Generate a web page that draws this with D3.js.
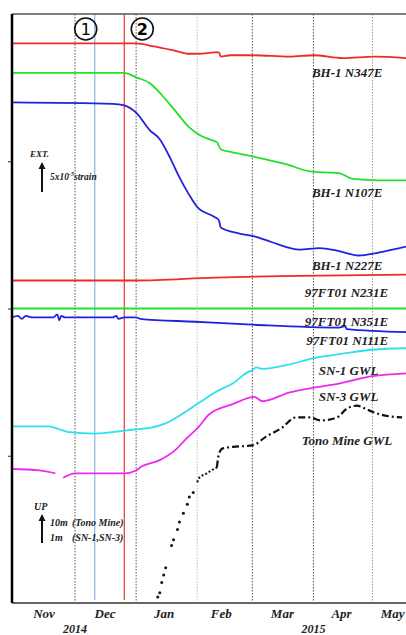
<!DOCTYPE html>
<html>
<head>
<meta charset="utf-8">
<script src="https://cdn.jsdelivr.net/npm/d3@7"></script>
<style>
body { margin: 0; background: #fff; }
svg { display: block; }
</style>
</head>
<body>
<svg id="chart"></svg>
<script>
// relative levels, 100 units per axis division
var bh1N347E = [["2014-10-30",380],["2014-11-20",380],["2014-12-10",380],["2014-12-26",380],["2015-01-01",380],["2015-01-10",378],["2015-01-21",375],["2015-01-28",373],["2015-02-02",373],["2015-02-10",374],["2015-02-12",374],["2015-02-13",371],["2015-02-18",372],["2015-03-01",372],["2015-03-20",371],["2015-04-01",372],["2015-04-16",370],["2015-05-02",371],["2015-05-18",370]];
var bh1N107E = [["2014-10-30",360],["2014-12-26",360],["2015-01-01",357],["2015-01-08",353],["2015-01-14",345],["2015-01-21",334],["2015-01-28",323],["2015-02-02",318],["2015-02-07",315],["2015-02-11",313],["2015-02-13",308],["2015-02-19",306],["2015-03-02",303],["2015-03-18",298],["2015-03-31",293],["2015-04-14",292],["2015-04-21",288],["2015-05-04",287],["2015-05-18",287]];
var bh1N227E = [["2014-10-30",340],["2014-12-20",339],["2014-12-26",338],["2015-01-01",333],["2015-01-08",321],["2015-01-13",315],["2015-01-18",303],["2015-01-23",289],["2015-01-28",277],["2015-02-01",269],["2015-02-10",262],["2015-02-12",260],["2015-02-13",255],["2015-02-22",251],["2015-03-02",249],["2015-03-11",245],["2015-03-25",240],["2015-04-04",241],["2015-04-14",239],["2015-04-24",236],["2015-05-04",238],["2015-05-18",242]];
var ft97N231E = [["2014-10-30",219],["2015-01-01",219],["2015-02-10",221],["2015-03-15",222],["2015-05-18",223]];
var ft97N351E = [["2014-10-30",200],["2015-01-01",200],["2015-03-01",200],["2015-05-18",200]];
var ft97N111E = [["2014-10-30",194],["2014-11-02",195],["2014-11-04",193],["2014-11-06",195],["2014-11-09",194],["2014-11-20",194],["2014-11-22",196],["2014-11-23",192],["2014-11-24",195],["2014-11-26",194],["2014-12-10",194],["2014-12-20",194],["2014-12-22",195],["2014-12-23",193],["2014-12-26",194],["2015-01-01",194],["2015-01-03",193],["2015-01-31",191],["2015-03-01",189],["2015-04-14",187],["2015-04-17",188],["2015-04-18",186],["2015-05-18",184]];
var sn1GWL = [["2014-10-30",120],["2014-11-18",120],["2014-11-23",118],["2014-11-28",116],["2014-12-11",115],["2014-12-26",117],["2015-01-01",118],["2015-01-08",119],["2015-01-16",122],["2015-01-24",128],["2015-02-02",136],["2015-02-10",143],["2015-02-19",149],["2015-02-27",157],["2015-03-01",158],["2015-03-03",160],["2015-03-06",159],["2015-03-20",162],["2015-03-31",166],["2015-04-14",169],["2015-05-01",172],["2015-05-18",173]];
var sn3GWL = [["2014-10-30",91],["2014-11-13",90],["2014-11-21",88],["2014-11-23",null],["2014-11-25",85],["2014-12-01",88],["2014-12-11",88],["2014-12-26",88],["2015-01-01",90],["2015-01-03",92],["2015-01-13",97],["2015-01-21",104],["2015-01-26",111],["2015-02-02",120],["2015-02-07",128],["2015-02-19",135],["2015-03-02",140],["2015-03-06",137],["2015-03-20",143],["2015-03-31",146],["2015-04-14",149],["2015-05-01",154],["2015-05-18",156]];
var tonoMineGWL = [["2015-01-12",4],["2015-01-13",7],["2015-01-14",14],["2015-01-15",19],["2015-01-16",24],["2015-01-19",39],["2015-01-20",43],["2015-01-22",50],["2015-01-23",55],["2015-01-25",61],["2015-01-27",67],["2015-01-28",72],["2015-01-30",75],["2015-02-01",82],["2015-02-02",85],["2015-02-04",87],["2015-02-06",88],["2015-02-08",90],["2015-02-11",92],["2015-02-12",101],["2015-02-14",105],["2015-02-19",106],["2015-03-01",107],["2015-03-08",113],["2015-03-16",119],["2015-03-23",126],["2015-03-30",126],["2015-04-05",124],["2015-04-13",126],["2015-04-18",132],["2015-04-23",134],["2015-04-29",131],["2015-05-05",128],["2015-05-16",126]];

var seriesNames = ["BH-1 N347E","BH-1 N107E","BH-1 N227E","97FT01 N231E","97FT01 N351E","97FT01 N111E","SN-1 GWL","SN-3 GWL","Tono Mine GWL"];
var labelEndDates = ["2015-05-06","2015-05-06","2015-05-06","2015-05-09","2015-05-09","2015-05-09","2015-05-04","2015-05-04","2015-05-11"];
var labelLevels = [357,276,226,208,188,175,155,137,107];

var eventDates = ["2014-12-11","2014-12-26"];
var eventMarks = ["1","2"];
var gridDates = ["2014-12-01","2015-01-01","2015-02-01","2015-03-01","2015-04-01","2015-05-01"];
var monthNames = ["Nov","Dec","Jan","Feb","Mar","Apr","May"];
var monthLabelDates = ["2014-11-15","2014-12-16","2015-01-15","2015-02-13","2015-03-16","2015-04-15","2015-05-11"];
var yearNames = ["2014","2015"];
var yearLabelDates = ["2014-12-01","2015-04-01"];

var parse = d3.timeParse("%Y-%m-%d");
var width = 406, height = 635;
var margin = {top: 14, left: 12, bottom: 32};
var serif = "'Liberation Serif', 'Times New Roman', serif";

var svg = d3.select("#chart").attr("width", width).attr("height", height);

var x = d3.scaleTime()
    .domain([parse("2014-10-30"), parse("2015-05-18")])
    .range([margin.left, width]);
var y = d3.scaleLinear()
    .domain([0, 400])
    .range([height - margin.bottom, margin.top]);

// month grid
svg.append("g").selectAll("line")
    .data(gridDates)
    .enter().append("line")
    .attr("x1", function(d) { return x(parse(d)); })
    .attr("x2", function(d) { return x(parse(d)); })
    .attr("y1", y(400)).attr("y2", y(0))
    .attr("stroke", function(d) { return d == "2015-02-01" ? "#bbb" : (d == "2015-05-01" ? "#999" : "#555"); })
    .attr("stroke-width", 1)
    .attr("stroke-dasharray", "1.5,1.5");

// event lines
var eventColors = ["#86b6e6", "#e53333"];
svg.append("g").selectAll("line")
    .data(eventDates)
    .enter().append("line")
    .attr("x1", function(d) { return x(parse(d)); })
    .attr("x2", function(d) { return x(parse(d)); })
    .attr("y1", y(400)).attr("y2", y(2))
    .attr("stroke", function(d, i) { return eventColors[i]; })
    .attr("stroke-width", 1.2);

// circled numbers
var markOffsets = [-9, 18];
var marks = svg.append("g").selectAll("g")
    .data(eventDates)
    .enter().append("g")
    .attr("transform", function(d, i) { return "translate(" + (x(parse(d)) + markOffsets[i]) + ",29)"; });
marks.append("circle").attr("r", 11).attr("fill", "none").attr("stroke", "#111").attr("stroke-width", 1.6);
marks.append("text")
    .attr("text-anchor", "middle").attr("dy", "0.36em")
    .style("font-family", "'DejaVu Sans', sans-serif")
    .style("font-size", "16px").style("font-weight", function(d, i) { return i ? "bold" : "normal"; })
    .text(function(d, i) { return eventMarks[i]; });

// series
var line = d3.line()
    .defined(function(d) { return d[1] !== null; })
    .x(function(d) { return x(parse(d[0])); })
    .y(function(d) { return y(d[1]); })
    .curve(d3.curveMonotoneX);

var series = [bh1N347E, bh1N107E, bh1N227E, ft97N231E, ft97N351E, ft97N111E, sn1GWL, sn3GWL];
var colors = ["#ee2a2a", "#22e02a", "#2222dd", "#ee2a2a", "#22e02a", "#2222dd", "#2ce0ee", "#ee2aee"];
svg.append("g").selectAll("path")
    .data(series)
    .enter().append("path")
    .attr("d", line)
    .attr("fill", "none")
    .attr("stroke", function(d, i) { return colors[i]; })
    .attr("stroke-width", 1.8);

// Tono Mine GWL: sparse readings as dots, then dashed
var cut = parse("2015-01-31"), cut2 = parse("2015-02-11");
svg.append("g").selectAll("circle")
    .data(tonoMineGWL.filter(function(d) { return parse(d[0]) < cut; }))
    .enter().append("circle")
    .attr("cx", function(d) { return x(parse(d[0])); })
    .attr("cy", function(d) { return y(d[1]); })
    .attr("r", 1.5).attr("fill", "#111");
svg.append("path")
    .datum(tonoMineGWL.filter(function(d) { var t = parse(d[0]); return t >= cut && t <= cut2; }))
    .attr("d", line.curve(d3.curveLinear))
    .attr("fill", "none").attr("stroke", "#111").attr("stroke-width", 2)
    .attr("stroke-dasharray", "2,2");
svg.append("path")
    .datum(tonoMineGWL.filter(function(d) { return parse(d[0]) >= cut2; }))
    .attr("d", line.curve(d3.curveMonotoneX))
    .attr("fill", "none").attr("stroke", "#111").attr("stroke-width", 2.2)
    .attr("stroke-dasharray", "7,3,2,3");

// series labels
svg.append("g").selectAll("text")
    .data(seriesNames)
    .enter().append("text")
    .attr("x", function(d, i) { return x(parse(labelEndDates[i])); })
    .attr("y", function(d, i) { return y(labelLevels[i]); })
    .attr("text-anchor", "end")
    .style("font-family", serif).style("font-size", "13px")
    .style("font-weight", "bold").style("font-style", "italic")
    .attr("fill", "#222")
    .text(function(d) { return d; });

// frame
svg.append("line").attr("x1", margin.left).attr("x2", width).attr("y1", y(400)).attr("y2", y(400))
    .attr("stroke", "#555").attr("stroke-width", 1.5);
svg.append("line").attr("x1", margin.left).attr("x2", width).attr("y1", y(0)).attr("y2", y(0))
    .attr("stroke", "#666").attr("stroke-width", 2);

var yAxis = svg.append("g")
    .attr("transform", "translate(" + margin.left + ",0)")
    .call(d3.axisLeft(y).tickValues([100, 200, 300]).tickSize(4).tickFormat(""));
yAxis.select(".domain").remove();
yAxis.selectAll(".tick line").attr("stroke", "#333");
svg.append("line").attr("x1", margin.left).attr("x2", margin.left).attr("y1", y(400)).attr("y2", y(0))
    .attr("stroke", "#000").attr("stroke-width", 2.5);

// x axis month labels
var xAxis = svg.append("g")
    .attr("transform", "translate(0," + y(0) + ")")
    .call(d3.axisBottom(x)
        .tickValues(monthLabelDates.map(parse))
        .tickSize(0)
        .tickFormat(function(d, i) { return monthNames[i]; }));
xAxis.select(".domain").remove();
xAxis.selectAll("text")
    .attr("dy", null).attr("y", 15)
    .style("font-family", serif).style("font-size", "13px")
    .style("font-weight", "bold").style("font-style", "italic")
    .attr("fill", "#222");

svg.append("g").selectAll("text")
    .data(yearNames)
    .enter().append("text")
    .attr("x", function(d, i) { return x(parse(yearLabelDates[i])); })
    .attr("y", y(0) + 30)
    .attr("text-anchor", "middle")
    .style("font-family", serif).style("font-size", "12px")
    .style("font-weight", "bold").style("font-style", "italic")
    .attr("fill", "#222")
    .text(function(d) { return d; });

// scale annotations
function arrow(cx, y0, y1) {
    svg.append("line").attr("x1", cx).attr("x2", cx).attr("y1", y0).attr("y2", y1 + 5)
        .attr("stroke", "#111").attr("stroke-width", 2);
    svg.append("path").attr("d", "M" + (cx - 3.5) + "," + (y1 + 7) + "L" + cx + "," + y1 + "L" + (cx + 3.5) + "," + (y1 + 7) + "Z")
        .attr("fill", "#111");
}
function note(tx, ty, size, str) {
    return svg.append("text").attr("x", tx).attr("y", ty)
        .style("font-family", serif).style("font-size", size + "px")
        .style("font-weight", "bold").style("font-style", "italic")
        .attr("fill", "#222").text(str);
}
note(30, 157, 9, "EXT.");
arrow(42, 192, 162);
var strain = note(50, 180, 9.5, "5x10");
strain.append("tspan").attr("dy", -4).style("font-size", "6px").text("-5");
strain.append("tspan").attr("dy", 4).text("strain");

note(34, 510, 10, "UP");
arrow(42, 543, 514);
note(50, 526, 10, "10m");
note(72, 526, 10, "(Tono Mine)");
note(50, 541, 10, "1m");
note(72, 541, 10, "(SN-1,SN-3)");
</script>
</body>
</html>
